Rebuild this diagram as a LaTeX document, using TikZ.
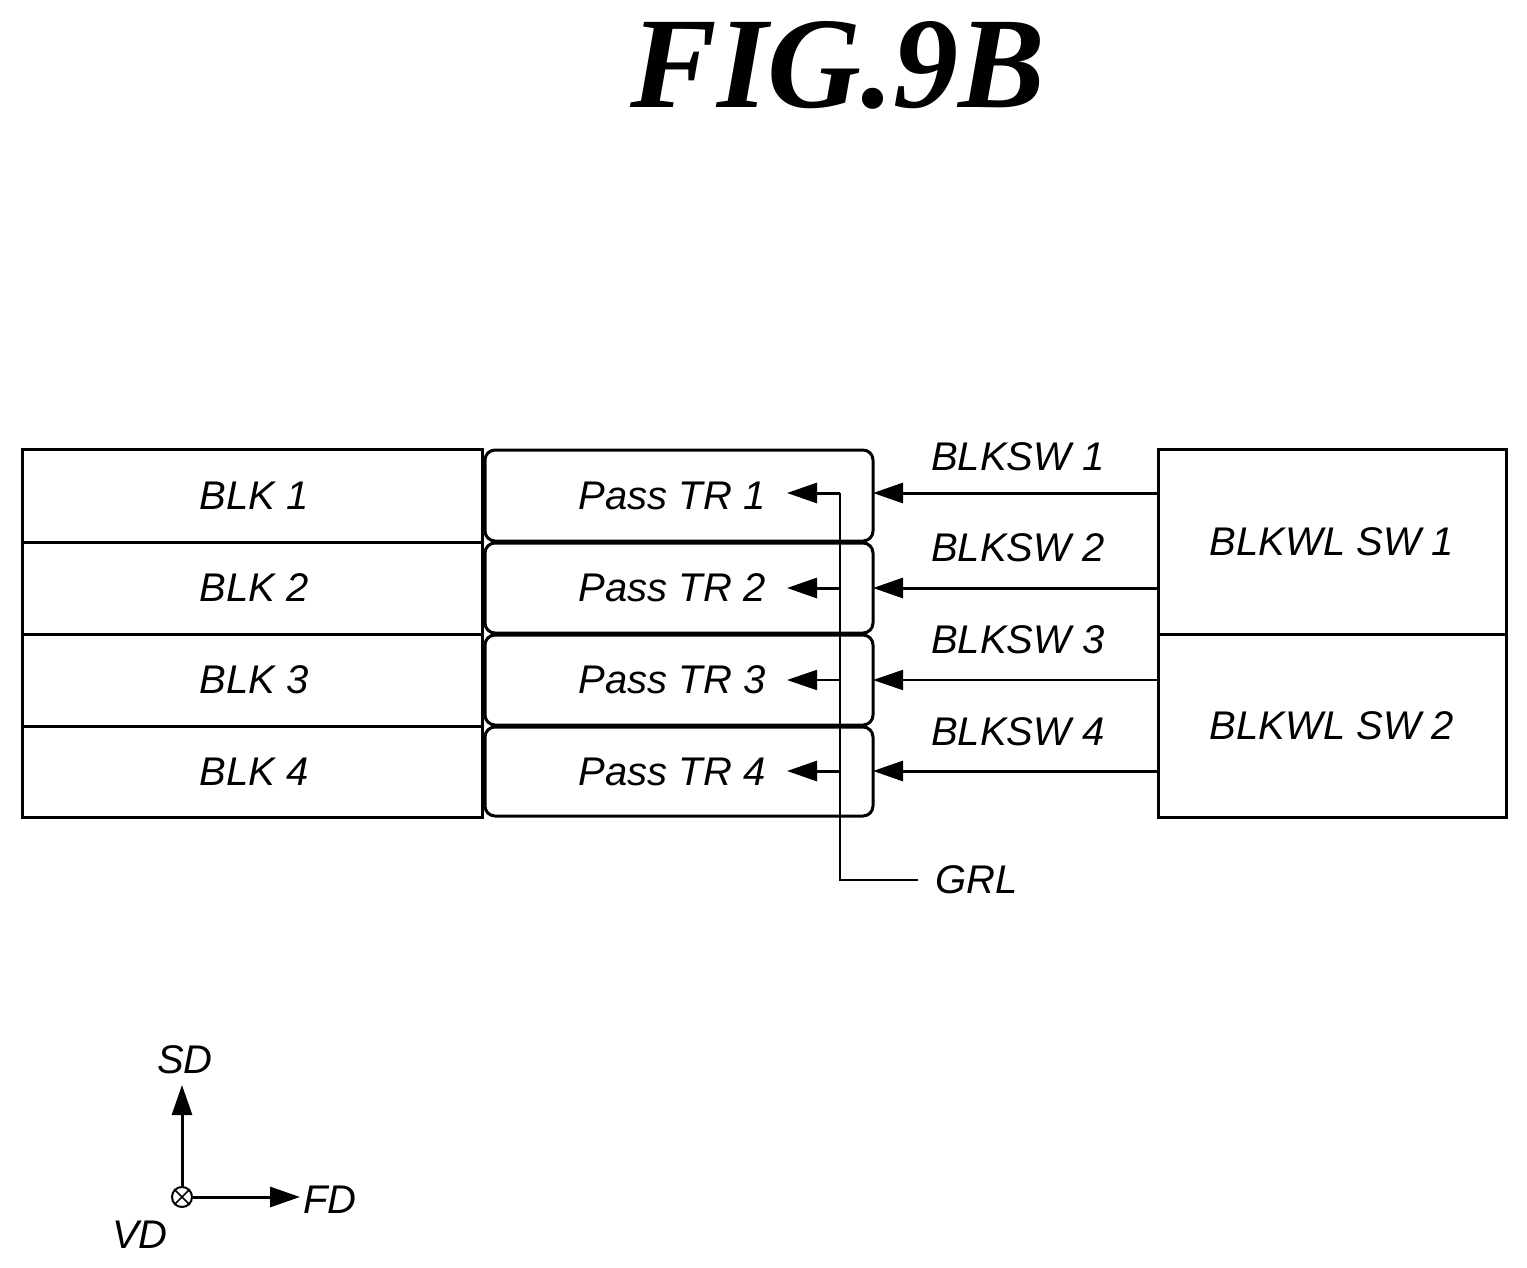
\documentclass[tikz,border=0pt]{standalone}
\usepackage{fontspec}
\setmainfont{Liberation Serif}
\setsansfont{Liberation Sans}
\usetikzlibrary{arrows.meta}
\begin{document}
\begin{tikzpicture}[x=1pt,y=-1pt,
  lbl/.style={font=\sffamily\itshape\fontsize{40}{40}\selectfont, inner sep=0},
  bx/.style={draw, line width=3pt},
  arr/.style={line width=3pt,-{Triangle[length=30pt,width=20pt]}},
  tarr/.style={line width=1.8pt,-{Triangle[length=30pt,width=20pt]}}]
\useasboundingbox (0,0) rectangle (1527,1268);
\node[font=\rmfamily\bfseries\itshape\fontsize{130}{130}\selectfont, inner sep=0] (title) at (838,65) {FIG.9B};
% BLK
\foreach \i/\a/\b in {1/449/542,2/542/634,3/634/726,4/726/817}{
  \draw[bx] (22,\a) rectangle (482,\b);
  \node[lbl] (blk\i) at (254,{(\a+\b)/2}) {BLK \i};
  \draw[bx, rounded corners=10pt] (485,\a+1) rectangle (873,\b-1);
  \node[lbl] (ptr\i) at (672,{(\a+\b)/2}) {Pass TR \i};
}
\coordinate (pte1) at (787,493);\coordinate (pte2) at (787,588);
\coordinate (pte3) at (787,680);\coordinate (pte4) at (787,771);
\coordinate (pr1) at (873,493);\coordinate (pr2) at (873,588);
\coordinate (pr3) at (873,680);\coordinate (pr4) at (873,771);
\draw[bx] (1158,449) rectangle (1506,634) node[midway,lbl] (sw1) {BLKWL SW 1};
\draw[bx] (1158,634) rectangle (1506,817) node[midway,lbl] (sw2) {BLKWL SW 2};
% GRL
\node[lbl, anchor=west] (grl) at (935,880) {GRL};
\draw[line width=2.5pt] (grl.west) ++(-17,0) -| (840,493);
\draw[arr] (840,493) -- (pte1);
\draw[arr] (840,588) -- (pte2);
\draw[tarr] (840,680) -- (pte3);
\draw[arr] (840,771) -- (pte4);
% BLKSW
\draw[arr] (1158,493) -- (pr1);
\draw[arr] (1158,588) -- (pr2);
\draw[tarr] (1158,680) -- (pr3);
\draw[arr] (1158,771) -- (pr4);
\node[lbl] (bs1) at (1018,457) {BLKSW 1};
\node[lbl] (bs2) at (1018,548) {BLKSW 2};
\node[lbl] (bs3) at (1018,640) {BLKSW 3};
\node[lbl] (bs4) at (1018,732) {BLKSW 4};
% axes
\node[draw, circle, line width=2pt, minimum size=20pt, inner sep=0] (o) at (182,1197) {};
\draw[line width=1.5pt] (o.north west) -- (o.south east) (o.north east) -- (o.south west);
\coordinate (sd) at (182,1085);
\coordinate (fd) at (300,1197);
\draw[arr] (o.north) -- (sd);
\draw[arr] (o.east) -- (fd);
\node[lbl] (sdl) at (185,1060) {SD};
\node[lbl] (fdl) at (330,1200) {FD};
\node[lbl] (vdl) at (140,1235) {VD};
\end{tikzpicture}
\end{document}
